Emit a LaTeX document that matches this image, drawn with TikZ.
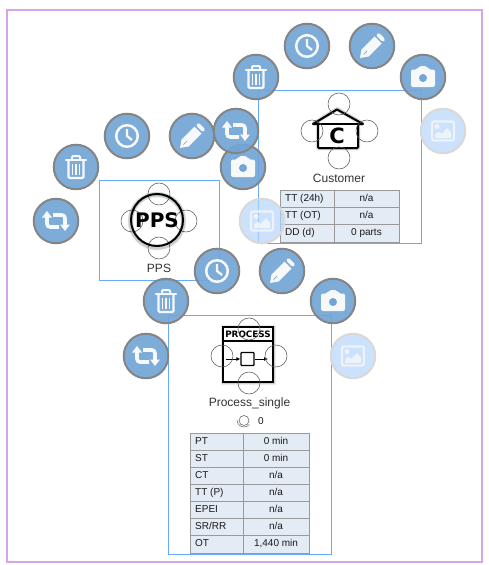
\documentclass[tikz,border=0pt]{standalone}
\usetikzlibrary{arrows.meta}
\usepackage{fontspec}
\setmainfont{Liberation Sans}
\newfontfamily\dejabold{DejaVu Sans}
\definecolor{btnfill}{HTML}{72A5D6}
\definecolor{btnline}{HTML}{858585}
\definecolor{iconwhite}{HTML}{F7F8F9}
\definecolor{boxblue}{HTML}{66AAFF}
\definecolor{purpleframe}{HTML}{D7A6EA}
\definecolor{cellfill}{HTML}{E3EBF5}
\definecolor{cellline}{HTML}{9A9A9A}
\definecolor{fadefill}{HTML}{B5D5FB}
\definecolor{fadeicon}{HTML}{EEF3FA}
\definecolor{labelgray}{HTML}{333333}
\tikzset{
  btn/.style={circle,draw=btnline,line width=2pt,fill=btnfill,fill opacity=.92,minimum size=44.5pt,inner sep=0pt},
  fadebtn/.style={circle,draw=black!15,line width=2pt,fill=fadefill,fill opacity=.7,minimum size=44.5pt,inner sep=0pt},
  selbox/.style={draw=boxblue,line width=.95pt},
  port/.style={circle,draw=black!65,line width=.55pt,minimum size=22pt,inner sep=0pt},
  cellrect/.style={draw=cellline,line width=1pt,fill=cellfill},
  celltext/.style={font=\fontsize{10pt}{10pt}\selectfont,text=black!90,inner sep=0pt,text height=7.2pt,text depth=2pt},
  caption/.style={font=\fontsize{12pt}{12pt}\selectfont,text=labelgray,inner sep=0pt},
  trashicon/.pic={
    \draw[iconwhite,line width=2.2pt,rounded corners=1.2pt] (-7.5,-7) -- (-7.5,11) -- (7.5,11) -- (7.5,-7);
    \draw[iconwhite,line width=2.2pt,line cap=round] (-10,-7) -- (10,-7);
    \draw[iconwhite,line width=2pt,rounded corners=1pt] (-4,-7) -- (-4,-11) -- (4,-11) -- (4,-7);
    \draw[iconwhite,line width=1.6pt] (-3.4,-3) -- (-3.4,8) (0,-3) -- (0,8) (3.4,-3) -- (3.4,8);
  },
  clockicon/.pic={
    \draw[iconwhite,line width=2.5pt] (0,0) circle[radius=10.8pt];
    \draw[iconwhite,line width=2.3pt] (0,-7) -- (0,0) -- (5,4);
  },
  pencilicon/.pic={
    \fill[iconwhite] (-12,12) -- (-10.5,3.5) -- (2.5,-9.5) -- (9.5,-2.5) -- (-3.5,10.5) -- cycle;
    \fill[iconwhite,rounded corners=1.5pt] (3.8,-10.8) -- (6.5,-13.5) -- (13.5,-6.5) -- (10.8,-3.8) -- cycle;
    \draw[btnfill,line width=.7pt] (-8.5,8.5) -- (-5,5);
  },
  cameraicon/.pic={
    \fill[iconwhite,rounded corners=2pt] (-12,-7.5) -- (-5.5,-7.5) -- (-4,-11) -- (4,-11) -- (5.5,-7.5) -- (12,-7.5) -- (12,10) -- (-12,10) -- cycle;
    \fill[btnfill] (0,1) circle[radius=4pt];
  },
  imageicon/.pic={
    \draw[fadeicon,line width=2.2pt,rounded corners=1.5pt] (-11,-9.5) rectangle (11,9.5);
    \fill[fadeicon] (-6,-4.5) circle[radius=2.6pt];
    \fill[fadeicon] (-8,7) -- (-8,3.5) -- (-4.5,0.5) -- (-1.5,3) -- (4,-3) -- (8,1.5) -- (8,7) -- cycle;
  },
  retweeticon/.pic={
    \draw[iconwhite,line width=3.6pt,rounded corners=3pt] (3,6) -- (-9,6) -- (-9,-4);
    \fill[iconwhite] (-9,-10) -- (-14,-3.5) -- (-4,-3.5) -- cycle;
    \draw[iconwhite,line width=3.6pt,rounded corners=3pt] (-3,-6) -- (9,-6) -- (9,4);
    \fill[iconwhite] (9,10) -- (14,3.5) -- (4,3.5) -- cycle;
  },
}
\newcommand{\tblrow}[7]{%
  \draw[cellrect] (#1,#4) rectangle (#2,#5);
  \draw[cellrect] (#2,#4) rectangle (#3,#5);
  \path (#1,#4) -- node[pos=.5,coordinate] (m) {} (#1,#5);
  \node[celltext,anchor=west] at ([xshift=5pt]m) {#6};
  \path (#2,#4) -- node[pos=.5,coordinate] (ma) {} (#3,#5);
  \node[celltext] at (ma) {#7};
}
\begin{document}
\begin{tikzpicture}[x=1pt,y=-1pt]
\useasboundingbox (0,0) rectangle (489,565);
\fill[white] (0,0) rectangle (489,565);
\draw[purpleframe,line width=1.1pt] (7,10) rectangle (482,562);

% Customer
\draw[selbox] (258,90) rectangle (421,243);
\begin{scope}
  \foreach \w/\o in {4.5/.08,3.5/.12}{
    \draw[black,opacity=\o,line width=\w pt,line join=round] (313,124) -- (337,109) -- (363,124) (318,124) -- (318,148) -- (358,148) -- (358,124);
  }
  \draw[black,line width=2pt,line join=round] (313,124) -- (337,109.5) -- (363,124) -- cycle;
  \fill[white] (319,125) rectangle (357,147);
  \draw[black,line width=2pt,rounded corners=1pt] (318,124) -- (318,148) -- (358,148) -- (358,124);
  \node[inner sep=0pt,font=\dejabold\bfseries\fontsize{21pt}{21pt}\selectfont] (clogo) at (337,136) {C};
\end{scope}
\node[port] (cp1) at (339,104) {};
\node[port] (cp2) at (312,131) {};
\node[port] (cp3) at (367,131) {};
\node[port] (cp4) at (339,158) {};
\node[caption] (cname) at (339,178.5) {Customer};
\tblrow{280}{334}{399}{190}{207}{TT (24h)}{n/a}
\tblrow{280}{334}{399}{207}{224}{TT (OT)}{n/a}
\tblrow{280}{334}{399}{224}{242}{DD (d)}{0 parts}

% PPS
\draw[selbox] (99,180) rectangle (219,280);
\node[port] (pp1) at (159,194) {};
\node[port] (pp2) at (132,221) {};
\node[port] (pp3) at (186,221) {};
\node[port] (pp4) at (159,248) {};
\foreach \w/\o in {5.5/.08,4.5/.12}{
  \draw[black,opacity=\o,line width=\w pt] (157,221) circle[radius=26.5pt];
}
\draw[black,line width=2pt] (157,220) circle[radius=26pt];
\node[inner sep=0pt,font=\dejabold\bfseries\fontsize{20pt}{20pt}\selectfont] (plogo) at (157,220) {PPS};
\node[caption] (pname) at (159,268.5) {PPS};

% Process
\draw[selbox] (168,315) rectangle (331,554);
\foreach \w/\o in {4.5/.08,3.5/.12}{
  \draw[black,opacity=\o,line width=\w pt] (223.5,327.5) rectangle (273.5,382.5);
}
\fill[white] (223,327) rectangle (273,382);
\draw[black,line width=1.8pt] (223,327) rectangle (273,382);
\draw[black,line width=1.4pt] (223,341) -- (273,341);
\node[inner sep=0pt,font=\dejabold\bfseries\fontsize{8.8pt}{9pt}\selectfont] (rlogo) at (248,334) {PROCESS};
\node[draw=black,line width=1.2pt,rounded corners=.8pt,minimum size=13pt,inner sep=0pt] (rsq) at (247.5,359) {};
\coordinate (ra) at (226,359);
\coordinate (rb) at (268,359);
\draw[black,line width=.9pt,-{Latex[length=4pt,width=4pt]}] (ra) -- (rsq.west);
\draw[black,line width=.9pt,-{Latex[length=4pt,width=4pt]}] (rsq.east) -- (rb);
\node[port] (rp1) at (249,329) {};
\node[port] (rp2) at (222,356) {};
\node[port] (rp3) at (276,356) {};
\node[port] (rp4) at (249,383) {};
\node[caption] (rname) at (249.5,403.5) {Process\_single};
\node[circle,draw=black!60,line width=.6pt,minimum size=10pt,inner sep=0pt] (inv) at (244,420.5) {};
\draw[black!60,line width=.5pt] (237,420) arc[start angle=180,end angle=320,radius=7pt];
\node[celltext] (invn) at (261,421.5) {0};
\tblrow{190}{243}{309}{433}{450}{PT}{0 min}
\tblrow{190}{243}{309}{450}{467}{ST}{0 min}
\tblrow{190}{243}{309}{467}{484}{CT}{n/a}
\tblrow{190}{243}{309}{484}{501}{TT (P)}{n/a}
\tblrow{190}{243}{309}{501}{518}{EPEI}{n/a}
\tblrow{190}{243}{309}{518}{535}{SR/RR}{n/a}
\tblrow{190}{243}{309}{535}{553}{OT}{1,440 min}

% PPS buttons
\node[btn] (b1) at (56,221) {};  \pic at (b1) {retweeticon};
\node[btn] (b2) at (76,167) {};  \pic at (b2) {trashicon};
\node[btn] (b3) at (127,136) {}; \pic at (b3) {clockicon};
\node[btn] (b4) at (192,136) {}; \pic at (b4) {pencilicon};
\node[btn] (b5) at (243,167) {}; \pic at (b5) {cameraicon};
\node[fadebtn] (b6) at (262,221) {}; \pic at (b6) {imageicon};
% Customer buttons
\node[btn] (c1) at (236,131) {}; \pic at (c1) {retweeticon};
\node[btn] (c2) at (256,77) {};  \pic at (c2) {trashicon};
\node[btn] (c3) at (307,46) {};  \pic at (c3) {clockicon};
\node[btn] (c4) at (372,46) {};  \pic at (c4) {pencilicon};
\node[btn] (c5) at (423,77) {};  \pic at (c5) {cameraicon};
\node[fadebtn] (c6) at (443,131) {}; \pic at (c6) {imageicon};
% Process buttons
\node[btn] (r1) at (146,356) {}; \pic at (r1) {retweeticon};
\node[btn] (r2) at (166,301) {}; \pic at (r2) {trashicon};
\node[btn] (r3) at (217,271) {}; \pic at (r3) {clockicon};
\node[btn] (r4) at (282,271) {}; \pic at (r4) {pencilicon};
\node[btn] (r5) at (333,301) {}; \pic at (r5) {cameraicon};
\node[fadebtn] (r6) at (353,356) {}; \pic at (r6) {imageicon};
\end{tikzpicture}
\end{document}
